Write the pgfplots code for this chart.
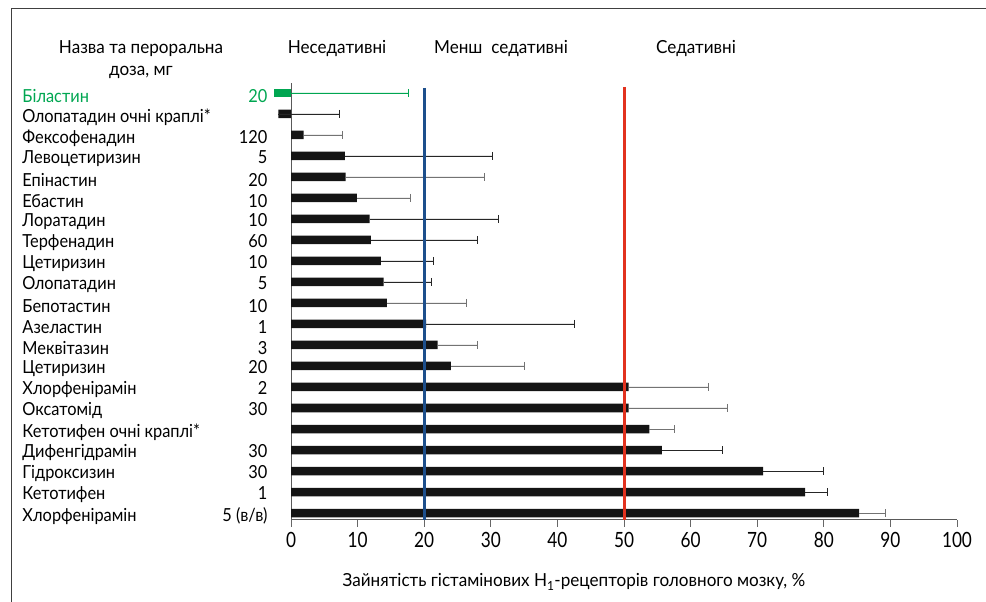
\documentclass[border=0pt]{standalone}
\usepackage{pgfplots}
\pgfplotsset{compat=1.18}
\usepackage{fontspec}
\setmainfont{Lato}
\newfontfamily\narrowfont[FakeStretch=0.95]{Lato}
\newfontfamily\rowfont[FakeStretch=0.91]{Lato}
\newfontfamily\tickfont[FakeStretch=0.82]{Lato}
\definecolor{bgreen}{HTML}{00A651}
\definecolor{lblue}{HTML}{1D4F8C}
\definecolor{lred}{HTML}{E2321F}
\definecolor{barblack}{HTML}{141414}
\newcommand{\rl}[2]{\makebox[245pt][l]{#1\hfill #2}}
\pgfplotstableread{
y val err
-1 -1.9 9.1
-3 8.1 22.2
-6 11.8 19.4
-7 12.0 16.0
-8 13.5 7.9
-9 13.9 7.2
-11 20.3 22.2
-17 55.7 9.1
-18 70.9 9.0
-19 77.2 3.3
}\blackerr
\pgfplotstableread{
y val err
-2 1.9 5.8
-4 8.2 20.8
-5 9.9 8.1
-10 14.4 11.9
-12 22.0 6.0
-13 24.0 11.1
-14 50.7 12.0
-15 50.7 14.8
-16 53.8 3.7
-20 85.3 3.9
}\grayerr
\pgfplotstableread{
y val err
0 -2.5 20.1
}\bilastin
\begin{document}
\begin{tikzpicture}[x=1pt,y=1pt]
\path[use as bounding box] (0,0) rectangle (986,602);
\draw[black!75, line width=1pt] (11,0) -- (11,593) -- (986,593);
\begin{axis}[
  at={(291pt,82pt)}, anchor=south west,
  width=666pt, height=437pt, scale only axis,
  xmin=0, xmax=100, ymin=-20.333, ymax=0.476,
  axis x line=bottom, axis y line=left,
  axis line style={-, black!65, line width=1pt},
  xbar, bar width=8.5pt, bar shift=0pt,
  xtick={0,10,...,100},
  ytick={0,-1,...,-20},
  y tick style={draw=none},
  x tick style={black!60, line width=1pt},
  tick align=outside, major tick length=7pt,
  /pgf/number format/assume math mode=true,
  xticklabel style={font=\tickfont\fontsize{21}{22}\selectfont, yshift=-2pt},
  yticklabels={
    {\rl{\color{bgreen}Біластин}{\color{bgreen}20}},
    {\rl{Олопатадин очні краплі*}{}},
    {\rl{Фексофенадин}{120}},
    {\rl{Левоцетиризин}{5}},
    {\rl{Епінастин}{20}},
    {\rl{Ебастин}{10}},
    {\rl{Лоратадин}{10}},
    {\rl{Терфенадин}{60}},
    {\rl{Цетиризин}{10}},
    {\rl{Олопатадин}{5}},
    {\rl{Бепотастин}{10}},
    {\rl{Азеластин}{1}},
    {\rl{Меквітазин}{3}},
    {\rl{Цетиризин}{20}},
    {\rl{Хлорфенірамін}{2}},
    {\rl{Оксатомід}{30}},
    {\rl{Кетотифен очні краплі*}{}},
    {\rl{Дифенгідрамін}{30}},
    {\rl{Гідроксизин}{30}},
    {\rl{Кетотифен}{1}},
    {\rl{Хлорфенірамін}{5 (в/в)}}},
  yticklabel style={anchor=east, xshift=-13pt, yshift=-3pt, font=\rowfont\fontsize{18}{20}\selectfont},
  clip=false,
  error bars/x dir=plus, error bars/x explicit,
]
\addplot[fill=barblack, draw=none,
  error bars/error bar style={black!85, line width=0.9pt},
  error bars/error mark options={black!85, line width=0.9pt, mark size=4pt, rotate=90}]
  table[x=val, y=y, x error=err]{\blackerr};
\addplot[fill=barblack, draw=none,
  error bars/error bar style={black!55, line width=0.9pt},
  error bars/error mark options={black!55, line width=0.9pt, mark size=4pt, rotate=90}]
  table[x=val, y=y, x error=err]{\grayerr};
\addplot[fill=bgreen, draw=none,
  error bars/error bar style={bgreen, line width=0.9pt},
  error bars/error mark options={bgreen, line width=0.9pt, mark size=4pt, rotate=90}]
  table[x=val, y=y, x error=err]{\bilastin};
\addplot[xbar=0pt, draw=lblue, line width=3pt, sharp plot, no marks, forget plot] coordinates {(20,0.24) (20,-20.333)};
\addplot[xbar=0pt, draw=lred, line width=3pt, sharp plot, no marks, forget plot] coordinates {(50,0.29) (50,-20.333)};
\end{axis}
\begin{scope}[font=\narrowfont\fontsize{18}{20}\selectfont]
\node[anchor=base] at (141,548) {Назва та пероральна};
\node[anchor=base] at (141,526) {доза, мг};
\node[anchor=base] at (337,548) {Неседативні};
\node[anchor=base] at (501,548) {Менш\ \ седативні};
\node[anchor=base] at (696,548) {Седативні};
\node[anchor=base] at (574,15) {Зайнятість гістамінових H\textsubscript{1}-рецепторів головного мозку, \%};
\end{scope}
\end{tikzpicture}
\end{document}
